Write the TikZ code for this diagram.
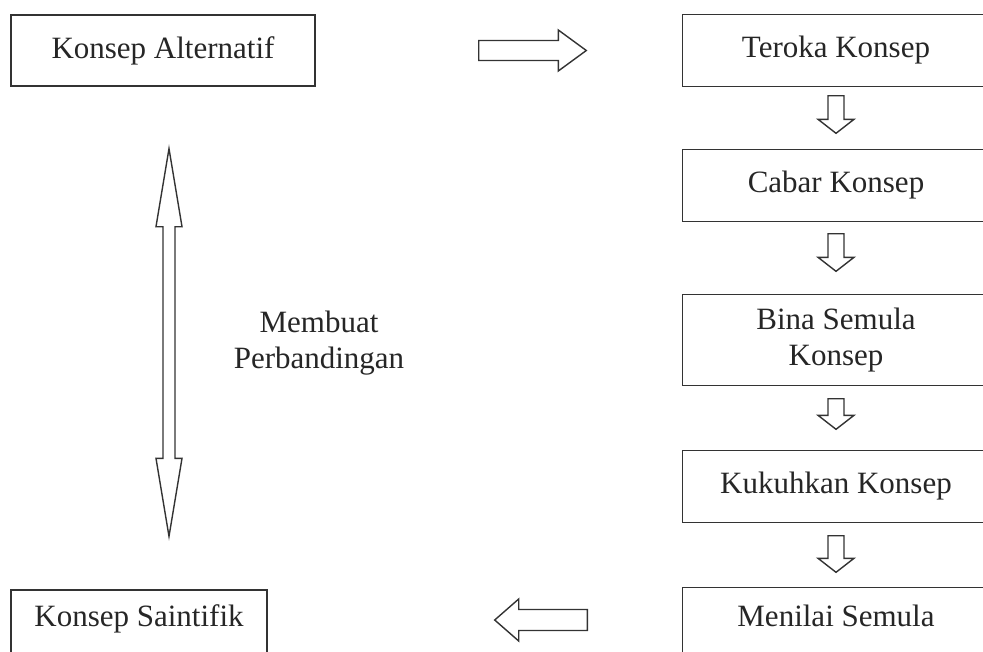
\documentclass[tikz,border=0pt]{standalone}
\usepackage{fontspec}
\setmainfont{Liberation Serif}
\usetikzlibrary{calc}
\tikzset{
    stage/.style={
           rectangle,
           draw=black!80, line width=1.4pt,
           minimum width=306pt,
           minimum height=71pt,
           inner sep=2pt,
           text=black!85,
           align=center,
           font=\fontsize{31}{36}\selectfont,
           },
    % right column: the page cuts these boxes off on the right
    cut/.style={
           stage,
           draw=none,
           },
    frame/.style={
           draw=black!80, line width=1.4pt,
           },
    note/.style={
           text=black!85,
           align=center,
           font=\fontsize{31}{36}\selectfont,
           },
    % sizes of the hollow block arrows
    shaft half/.store in=\shafthalf,
    head half/.store in=\headhalf,
    head len/.store in=\headlen,
    gap out/.store in=\gapout,
    gap in/.store in=\gapin,
    shaft half=8pt, head half=18pt, head len=14pt, gap out=10pt, gap in=18pt,
    fat/.style={
           draw=black!80, line width=1.4pt, fill=white,
           to path={
               let \p1=($(\tikztostart)!\gapout!(\tikztotarget)$),
                   \p2=($(\tikztotarget)!\gapin!(\tikztostart)$) in
               ($(\p1)!\shafthalf!90:(\p2)$)
               -- ($(\p2)!\headlen!(\p1)!\shafthalf!90:(\p2)$)
               -- ($(\p2)!\headlen!(\p1)!\headhalf!90:(\p2)$)
               -- (\p2)
               -- ($(\p2)!\headlen!(\p1)!\headhalf!-90:(\p2)$)
               -- ($(\p2)!\headlen!(\p1)!\shafthalf!-90:(\p2)$)
               -- ($(\p1)!\shafthalf!-90:(\p2)$)
               -- cycle
           }},
    fat both/.style={
           draw=black!80, line width=1.4pt, fill=white,
           to path={
               let \p1=($(\tikztostart)!\gapout!(\tikztotarget)$),
                   \p2=($(\tikztotarget)!\gapin!(\tikztostart)$) in
               (\p1)
               -- ($(\p1)!\headlen!(\p2)!\headhalf!90:(\p2)$)
               -- ($(\p1)!\headlen!(\p2)!\shafthalf!90:(\p2)$)
               -- ($(\p2)!\headlen!(\p1)!\shafthalf!90:(\p2)$)
               -- ($(\p2)!\headlen!(\p1)!\headhalf!90:(\p2)$)
               -- (\p2)
               -- ($(\p2)!\headlen!(\p1)!\headhalf!-90:(\p2)$)
               -- ($(\p2)!\headlen!(\p1)!\shafthalf!-90:(\p2)$)
               -- ($(\p1)!\headlen!(\p2)!\shafthalf!-90:(\p2)$)
               -- ($(\p1)!\headlen!(\p2)!\headhalf!-90:(\p2)$)
               -- cycle
           }},
}

\begin{document}
\begin{tikzpicture}
    \useasboundingbox (0,0) rectangle (983pt,-651pt);
    \clip (0,0) rectangle (983pt,-651pt);

    % left column
    \node[stage, minimum width=304pt, anchor=center] (alt) at (163pt,-50.5pt)
    {Konsep Alternatif};

    % right column: the stages, one under the other
    \node[cut, right of=alt, node distance=673pt, anchor=center] (teroka)
    {Teroka Konsep};

    \node[cut, below of=teroka, node distance=135pt, anchor=center] (cabar)
    {Cabar Konsep};

    \node[cut, below of=cabar, node distance=154.5pt,
    minimum height=90pt, anchor=center] (bina)
    {Bina Semula\\Konsep};

    \node[cut, below of=bina, node distance=146.5pt, anchor=center] (kukuh)
    {Kukuhkan Konsep};

    \node[cut, below of=kukuh, node distance=141.5pt,
    minimum height=80pt, text depth=24pt, anchor=center] (menilai)
    {Menilai Semula};

    % open on the right, where the page ends
    \foreach \s in {teroka,cabar,bina,kukuh,menilai}
        \draw[frame] ([xshift=30pt]\s.north east) -- (\s.north west)
            -- (\s.south west) -- ([xshift=30pt]\s.south east);

    % back to the left
    \node[stage, left of=menilai, node distance=697pt,
    minimum width=256pt, minimum height=76pt, text depth=24pt,
    anchor=center] (saintifik)
    {Konsep Saintifik};

    \node[note] (banding) at (319pt,-343pt) {Membuat\\Perbandingan};

    % the hollow arrows
    \path
        (alt.east)      edge[fat, gap out=163pt, gap in=96pt,
                             shaft half=10pt, head half=20.5pt, head len=28pt]
        (teroka.west)

        (teroka.south)  edge[fat, gap out=9pt, gap in=16pt]   (cabar.north)
        (cabar.south)   edge[fat, gap out=12pt, gap in=23pt]  (bina.north)
        (bina.south)    edge[fat, gap out=13pt, gap in=21pt]  (kukuh.north)
        (kukuh.south)   edge[fat, gap out=13pt, gap in=15pt]  (menilai.north)

        ([yshift=8pt]menilai.west)  edge[fat, gap out=95pt, gap in=227pt,
                             shaft half=10.5pt, head half=21pt, head len=24pt]
        ([yshift=8pt]saintifik.east)

        ([xshift=6pt]alt.south) edge[fat both, gap out=62pt, gap in=53pt,
                             shaft half=6pt, head half=13pt, head len=78pt]
        ([xshift=30pt]saintifik.north)
        ;

\end{tikzpicture}
\end{document}
